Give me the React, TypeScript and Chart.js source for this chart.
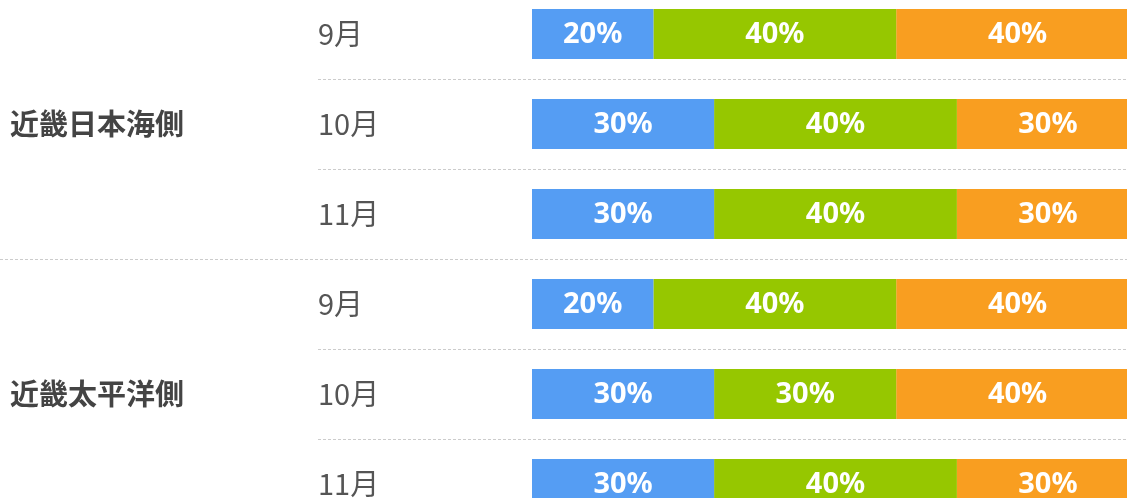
import React, { useEffect, useRef } from "react";
import { Chart, registerables } from "chart.js";

Chart.register(...registerables);

const months = ["9月", "10月", "11月", "9月", "10月", "11月"];
const regions = ["近畿日本海側", "近畿太平洋側"];
const regionRowIndex = [1, 4];
const regionBoundaries = [2.5];
const monthBoundaries = [0.5, 1.5, 3.5, 4.5];
const blueValues = [20, 30, 30, 20, 30, 30];
const greenValues = [40, 40, 40, 40, 30, 40];
const orangeValues = [40, 30, 30, 40, 40, 30];

const overlayPlugin = {
  id: "overlay",
  afterDatasetsDraw(chart: any) {
    const ctx = chart.ctx;
    const y = chart.scales.y;
    const right = chart.width;
    ctx.save();
    ctx.strokeStyle = "#cccccc";
    ctx.lineWidth = 1;
    ctx.setLineDash([3, 2]);
    const drawLine = (x0: number, py: number) => {
      const yy = Math.round(py) + 0.5;
      ctx.beginPath();
      ctx.moveTo(x0, yy);
      ctx.lineTo(right, yy);
      ctx.stroke();
    };
    monthBoundaries.forEach((b) => drawLine(318, y.getPixelForValue(b)));
    regionBoundaries.forEach((b) => drawLine(0, y.getPixelForValue(b)));
    ctx.setLineDash([]);
    ctx.fillStyle = "#444444";
    ctx.font = "bold 29px 'Noto Sans CJK JP'";
    ctx.textAlign = "left";
    ctx.textBaseline = "middle";
    regions.forEach((r, i) => {
      ctx.fillText(r, 10, y.getPixelForValue(regionRowIndex[i]));
    });
    ctx.fillStyle = "#ffffff";
    ctx.font = "bold 29px 'Noto Sans'";
    ctx.textAlign = "center";
    chart.data.datasets.forEach((ds: any, di: number) => {
      const meta = chart.getDatasetMeta(di);
      meta.data.forEach((el: any, i: number) => {
        const p = el.getProps(["x", "y", "base"], true);
        ctx.fillText(ds.data[i] + "%", (p.x + p.base) / 2, p.y + 1);
      });
    });
    ctx.restore();
  },
};

export default function App() {
  const ref = useRef<HTMLCanvasElement>(null);
  useEffect(() => {
    if (!ref.current) return;
    const chart = new Chart(ref.current, {
      type: "bar",
      data: {
        labels: months,
        datasets: [
          { data: blueValues, backgroundColor: "#559df3" },
          { data: greenValues, backgroundColor: "#96c700" },
          { data: orangeValues, backgroundColor: "#f99e20" },
        ],
      },
      options: {
        indexAxis: "y",
        animation: false,
        responsive: false,
        layout: { padding: { left: 318, right: 0, top: 0, bottom: 0 } },
        datasets: { bar: { categoryPercentage: 1, barPercentage: 0.556 } },
        plugins: { legend: { display: false }, tooltip: { enabled: false } },
        scales: {
          x: { stacked: true, min: 0, max: 100, display: false },
          y: {
            stacked: true,
            grid: { display: false },
            border: { display: false },
            afterFit: (s: any) => {
              s.width = 214;
              s.paddingTop = 0;
              s.paddingBottom = 0;
            },
            ticks: {
              crossAlign: "far",
              color: "#555555",
              font: { family: "'Noto Sans CJK JP'", size: 29 },
            },
          },
        },
      },
      plugins: [overlayPlugin],
    } as any);
    return () => chart.destroy();
  }, []);
  return (
    <div style={{ position: "fixed", left: 0, top: -11, width: 1139, height: 540 }}>
      <canvas ref={ref} width={1139} height={540} style={{ display: "block" }} />
    </div>
  );
}
